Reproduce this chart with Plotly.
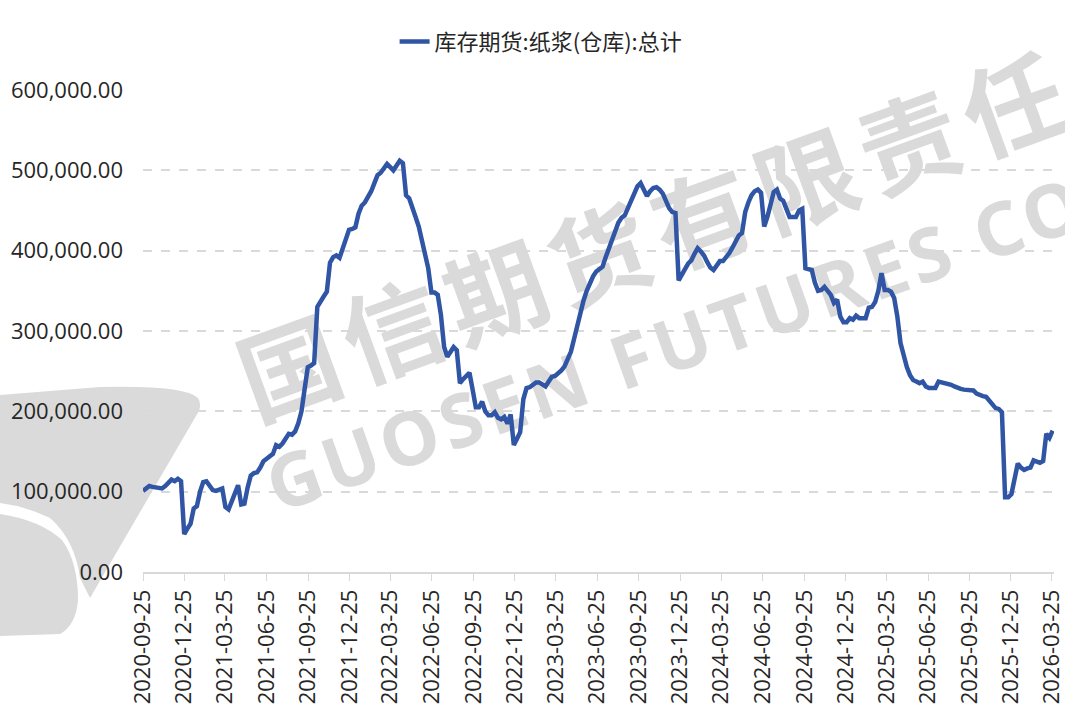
import base64
import pandas as pd
import plotly.graph_objects as go

# weekly pulp warehouse futures inventory (tonnes), first week 2020-09-25
start_date = "2020-09-25"
inventory = [
    101000, 104000, 107000, 106000, 105000, 104000, 104000, 107000, 112000, 115000, 113000, 116000,
    113000, 47000, 54000, 60000, 79000, 82000, 100000, 112000, 113000, 108000, 102000, 101000,
    102000, 104000, 81000, 78000, 88000, 100000, 108000, 84000, 85000, 105000, 120000, 123000,
    124000, 130000, 138000, 141000, 144000, 147000, 158000, 156000, 160000, 165000, 172000, 171000,
    175000, 185000, 200000, 228000, 255000, 257000, 260000, 330000, 338000, 343000, 349000, 385000,
    392000, 394000, 391000, 402000, 414000, 426000, 427000, 429000, 446000, 456000, 460000, 467000,
    474000, 484000, 494000, 497000, 502000, 508000, 504000, 500000, 506000, 512000, 509000, 469000,
    465000, 455000, 442000, 430000, 412000, 395000, 378000, 348000, 348000, 345000, 320000, 280000,
    268000, 274000, 280000, 276000, 235000, 240000, 245000, 248000, 227000, 205000, 205000, 212000,
    200000, 195000, 195000, 199000, 192000, 190000, 193000, 185000, 196000, 158000, 166000, 174000,
    215000, 229000, 230000, 233000, 236000, 236000, 234000, 231000, 237000, 243000, 244000, 247000,
    251000, 256000, 264000, 274000, 290000, 308000, 326000, 338000, 350000, 360000, 368000, 374000,
    377000, 380000, 392000, 402000, 414000, 425000, 435000, 441000, 444000, 453000, 462000, 472000,
    480000, 484000, 476000, 468000, 474000, 478000, 479000, 476000, 471000, 462000, 453000, 448000,
    447000, 363000, 369000, 377000, 384000, 388000, 396000, 403000, 399000, 394000, 386000, 379000,
    376000, 382000, 387000, 387000, 391000, 397000, 404000, 412000, 419000, 422000, 448000, 460000,
    469000, 474000, 476000, 472000, 430000, 442000, 460000, 473000, 476000, 465000, 462000, 450000,
    442000, 442000, 442000, 450000, 452000, 378000, 377000, 376000, 360000, 350000, 351000, 355000,
    350000, 345000, 335000, 339000, 318000, 311000, 311000, 316000, 314000, 319000, 316000, 316000,
    316000, 329000, 330000, 336000, 350000, 372000, 351000, 351000, 349000, 341000, 318000, 285000,
    268000, 255000, 245000, 239000, 237000, 235000, 237000, 231000, 229000, 229000, 229000, 237000,
    236000, 235000, 235000, 233000, 231000, 229000, 228000, 227000, 227000, 227000, 226000, 222000,
    220000, 219000, 218000, 214000, 208000, 204000, 203000, 199000, 93000, 93000, 97000, 120000,
    135000, 130000, 127000, 129000, 130000, 139000, 137000, 136000, 138000, 172000, 167000, 176000,
]
dates = pd.date_range(start_date, periods=len(inventory), freq="7D")

tick_dates = [
    "2020-09-25", "2020-12-25", "2021-03-25", "2021-06-25", "2021-09-25", "2021-12-25",
    "2022-03-25", "2022-06-25", "2022-09-25", "2022-12-25", "2023-03-25", "2023-06-25",
    "2023-09-25", "2023-12-25", "2024-03-25", "2024-06-25", "2024-09-25", "2024-12-25",
    "2025-03-25", "2025-06-25", "2025-09-25", "2025-12-25", "2026-03-25",
]
series_name = "库存期货:纸浆(仓库):总计"

W, H = 1065, 708
ml, mr, mt, mb = 143, 11, 90, 136
pw, ph = W - ml - mr, H - mt - mb

# watermark drawn as an svg image behind the plot
svg = f'''<svg xmlns="http://www.w3.org/2000/svg" width="{W}" height="{H}" viewBox="0 0 {W} {H}">
<g fill="#dadada">
<path d="M0,395 L100,387 Q185,385 198,398 Q203,406 196,416 L90,598 L80,578 Q75,540 50,518 Q25,506 0,503 Z"/>
<path d="M0,514 Q40,520 62,540 Q78,562 78,600 Q76,625 60,634 L0,636 Z"/>
<text x="654" y="230" transform="rotate(-20 654 230)" text-anchor="middle" dominant-baseline="central"
 font-family="Noto Sans CJK SC" font-weight="bold" font-size="100" letter-spacing="10">国信期货有限责任</text>
<text x="676" y="342" transform="rotate(-19.5 676 342)" text-anchor="middle" dominant-baseline="central"
 font-family="Noto Sans" font-weight="bold" font-size="74" letter-spacing="5">GUOSEN FUTURES CO</text>
</g>
</svg>'''
svg_uri = "data:image/svg+xml;base64," + base64.b64encode(svg.encode("utf-8")).decode()

fig = go.Figure()
fig.add_trace(go.Scatter(
    x=dates,
    y=inventory,
    mode="lines",
    name=series_name,
    line=dict(color="#2f55a4", width=4.5),
    showlegend=True,
))

fig.update_layout(
    width=W, height=H,
    margin=dict(l=ml, r=mr, t=mt, b=mb),
    paper_bgcolor="white",
    plot_bgcolor="rgba(0,0,0,0)",
    font=dict(family="Open Sans", color="#262626"),
    legend=dict(
        orientation="h",
        x=0.437, xanchor="center",
        y=1.10, yanchor="middle",
        font=dict(size=22, family="Noto Sans CJK SC"),
    ),
    images=[dict(
        source=svg_uri,
        xref="paper", yref="paper",
        x=-ml / pw, y=(ph + mt) / ph,
        sizex=W / pw, sizey=H / ph,
        xanchor="left", yanchor="top",
        sizing="stretch",
        layer="below",
    )],
)

fig.update_xaxes(
    type="date",
    range=[dates[0], "2026-03-30"],
    tickvals=tick_dates,
    ticktext=tick_dates,
    tickangle=-90,
    tickfont=dict(size=22),
    showgrid=False,
    showline=True, linecolor="#d9d9d9", linewidth=1.5,
    ticks="outside", ticklen=7, tickcolor="#d9d9d9",
    automargin=False,
)
fig.update_yaxes(
    range=[0, 600000],
    dtick=100000,
    tickformat=",.2f",
    tickfont=dict(size=22),
    showgrid=True, gridcolor="#d9d9d9", gridwidth=2, griddash="dash",
    zeroline=False,
    ticklabelstandoff=19,
    automargin=False,
)

# page body has a default 8px margin, remove it so the figure fills the window
fig.write_html(
    "out.html",
    config={"displayModeBar": False},
    post_script="document.body.style.margin='0';",
)
